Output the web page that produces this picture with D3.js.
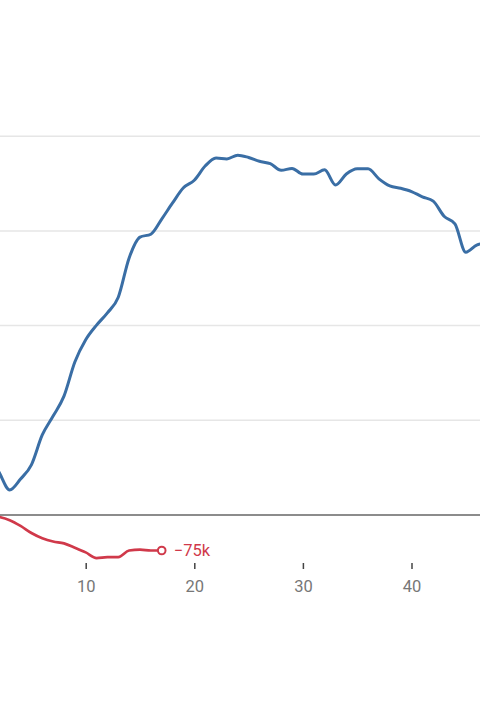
<!DOCTYPE html>
<html>
<head>
<meta charset="utf-8">
<script src="https://cdn.jsdelivr.net/npm/d3@7/dist/d3.min.js"></script>
<style>
  html, body { margin: 0; padding: 0; background: #fff; }
  svg { display: block; font-family: Roboto, "Noto Sans", sans-serif; }
</style>
</head>
<body>
<svg id="chart" width="480" height="720"></svg>
<script>
// ---- data ----
const steps = d3.range(0, 48);
const blueValues = [158, 127, 91, 53, 76, 106, 169, 209, 251, 323, 370, 401, 427, 460, 543, 587,
  593, 625, 659, 691, 707, 737, 754, 752, 760, 755, 747, 742, 728, 732, 720, 720, 729, 697, 720,
  731, 731, 710, 695, 690, 683, 672, 663, 631, 615, 555, 570, 575];
const redValues = [0, -1, -4, -11, -23, -38, -49, -56, -60, -69, -79, -91, -89, -89, -75, -73, -75, -75];
const xTicks = [10, 20, 30, 40];
const gridValues = [200, 400, 600, 800];
const endLabel = "\u221275k";

// ---- layout ----
const W = 480;
const svg = d3.select("#chart");
const x = d3.scaleLinear().domain([0, 10]).range([-22.9, 85.7]);
const y = d3.scaleLinear().domain([0, 200]).range([515, 420.3]);

// gridlines
svg.append("g").selectAll("line").data(gridValues).join("line")
  .attr("x1", 0).attr("x2", W)
  .attr("y1", d => y(d)).attr("y2", d => y(d))
  .attr("stroke", "#e6e6e6").attr("stroke-width", 1.5);

// x axis ticks & labels
const xAxis = d3.axisBottom(x).tickValues(xTicks).tickSize(6).tickPadding(11).tickFormat(d3.format("d"));
const gx = svg.append("g").attr("transform", "translate(0,563)").call(xAxis);
gx.select(".domain").remove();
gx.selectAll(".tick line").attr("stroke", "#444").attr("stroke-width", 1.5);
gx.selectAll(".tick text").attr("fill", "#777").attr("font-size", 16.5)
  .attr("font-family", "Roboto, sans-serif");

// zero line
svg.append("line").attr("x1", 0).attr("x2", W)
  .attr("y1", y(0)).attr("y2", y(0))
  .attr("stroke", "#666").attr("stroke-width", 1.5);

const line = d3.line().x((d, i) => x(steps[i])).y(d => y(d)).curve(d3.curveMonotoneX);

// blue line
svg.append("path").datum(blueValues).attr("d", line)
  .attr("fill", "none").attr("stroke", "#3a6ea5").attr("stroke-width", 3)
  .attr("stroke-linejoin", "round").attr("stroke-linecap", "round");

// red line
svg.append("path").datum(redValues).attr("d", line)
  .attr("fill", "none").attr("stroke", "#d0394a").attr("stroke-width", 2.7)
  .attr("stroke-linejoin", "round").attr("stroke-linecap", "round");

const lastI = redValues.length - 1;
svg.append("circle")
  .attr("cx", x(steps[lastI])).attr("cy", y(redValues[lastI])).attr("r", 3.8)
  .attr("fill", "#fff").attr("stroke", "#d0394a").attr("stroke-width", 2);

svg.append("text")
  .attr("x", x(steps[lastI]) + 12).attr("y", y(redValues[lastI]))
  .attr("dy", "0.35em")
  .attr("fill", "#d0394a").attr("font-size", 16.5)
  .text(endLabel);
</script>
</body>
</html>
